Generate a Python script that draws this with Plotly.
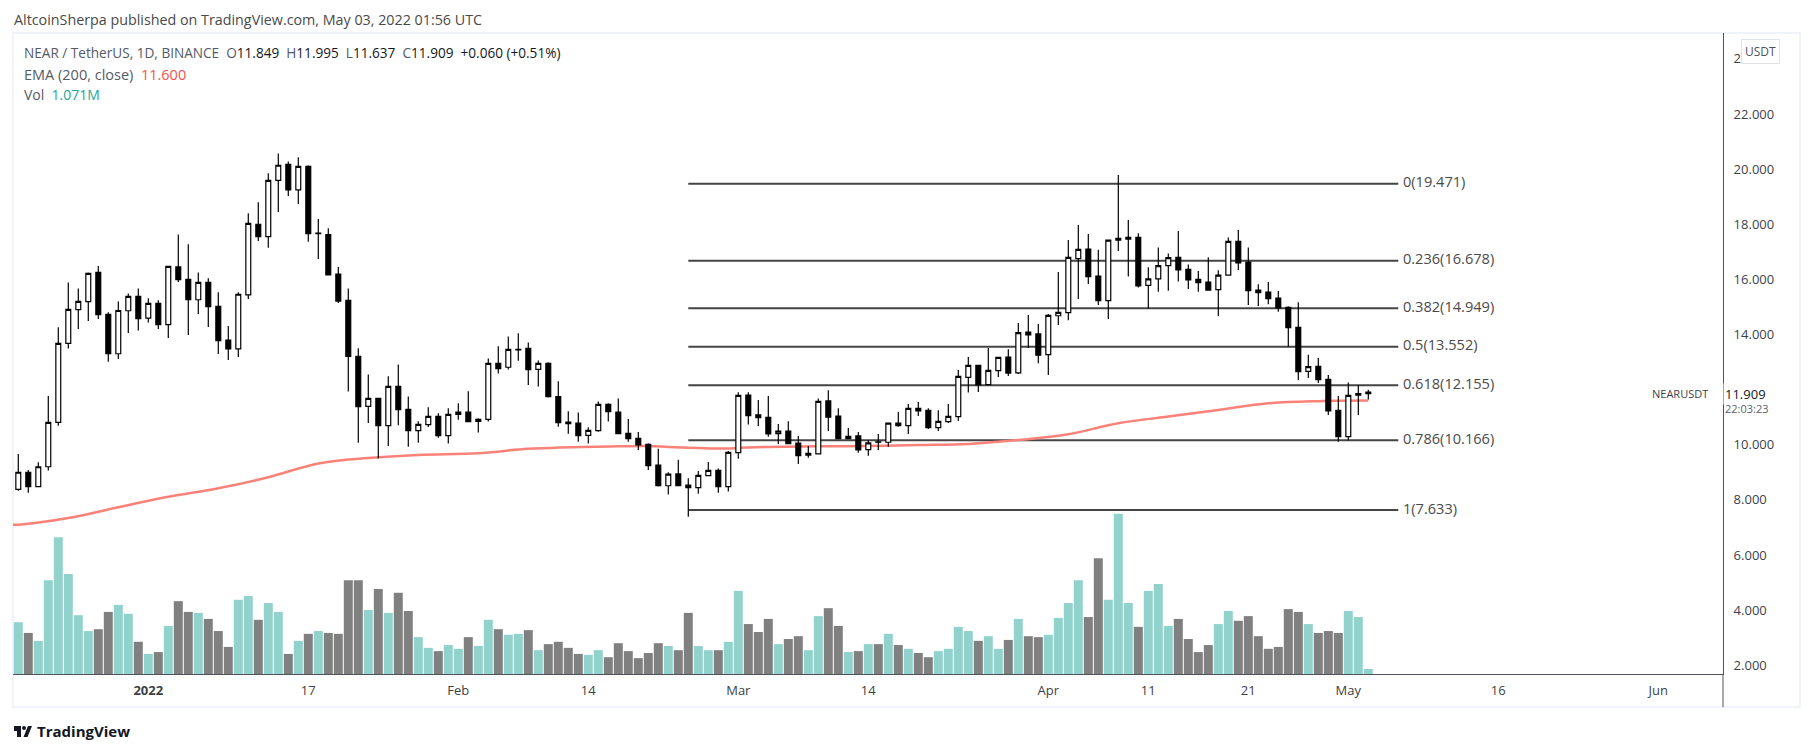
import pandas as pd
import plotly.graph_objects as go

first_day = "2021-12-19"

opens = [8.38, 9.00, 8.48, 9.20, 10.81, 13.68, 14.90, 15.19, 16.25, 14.73, 13.30, 14.86, 15.38, 14.59, 15.13, 14.36,
         16.45, 16.00, 15.26, 15.89, 15.02, 13.80, 13.48, 15.44, 18.00, 17.55, 19.59, 20.17, 19.25, 20.10, 17.66, 17.62,
         16.19, 15.24, 13.21, 11.39, 11.68, 10.69, 12.12, 11.28, 10.51, 10.73, 11.03, 10.33, 11.10, 11.18, 10.85, 10.92,
         12.95, 12.81, 13.44, 13.50, 12.73, 12.95, 11.75, 10.82, 10.78, 10.34, 10.51, 11.46, 11.18, 10.41, 10.23, 10.01,
         9.26, 8.51, 8.94, 8.53, 8.44, 8.88, 9.07, 8.48, 9.71, 11.80, 11.08, 10.99, 10.40, 10.49, 10.06, 9.62,
         9.67, 11.59, 11.04, 10.22, 10.32, 9.82, 10.10, 10.09, 10.78, 10.69, 11.32, 11.25, 10.62, 10.84, 11.02, 12.44,
         12.88, 12.18, 12.69, 13.18, 12.61, 14.09, 14.02, 13.27, 14.68, 14.79, 16.75, 17.10, 16.12, 15.23, 17.42, 17.46,
         17.52, 15.78, 16.02, 16.50, 16.80, 16.36, 16.00, 15.90, 15.63, 16.15, 17.38, 16.63, 15.61, 15.54, 15.32, 14.98,
         14.26, 12.66, 12.84, 12.37, 11.25, 10.29, 11.80, 11.849]
highs = [9.66, 9.08, 9.36, 11.77, 14.26, 15.89, 15.67, 16.25, 16.48, 14.81, 15.20, 15.49, 15.67, 15.31, 15.24, 16.47,
         17.63, 17.27, 16.25, 16.04, 15.53, 14.31, 15.53, 18.40, 18.80, 19.85, 20.57, 20.28, 20.43, 20.14, 18.19, 17.85,
         16.45, 15.67, 13.50, 12.55, 11.68, 12.48, 12.91, 11.75, 10.85, 11.36, 11.14, 11.32, 11.50, 11.94, 10.96, 13.13,
         13.57, 13.93, 14.04, 13.71, 13.06, 12.99, 12.30, 11.21, 11.17, 10.63, 11.57, 11.50, 11.68, 10.93, 10.46, 10.05,
         9.85, 9.00, 9.45, 8.78, 9.05, 9.37, 9.14, 9.77, 11.90, 11.90, 11.62, 11.77, 10.75, 10.85, 10.32, 9.95,
         11.68, 11.98, 11.32, 10.61, 10.46, 10.17, 10.39, 10.81, 11.19, 11.48, 11.55, 11.32, 11.25, 11.48, 12.71, 13.18,
         12.88, 13.51, 13.19, 13.46, 14.42, 14.71, 14.38, 14.74, 16.27, 17.43, 17.97, 17.65, 17.07, 17.45, 19.79, 18.15,
         17.67, 16.44, 17.16, 16.94, 17.75, 16.54, 16.30, 16.80, 16.33, 17.52, 17.79, 17.16, 15.82, 15.90, 15.58, 15.02,
         15.17, 13.26, 13.15, 12.53, 11.77, 12.26, 12.17, 11.995]
lows = [8.33, 8.26, 8.47, 9.06, 10.69, 13.49, 14.20, 14.49, 14.56, 13.01, 13.11, 14.05, 14.14, 14.43, 14.20, 13.87,
        15.90, 13.98, 14.74, 14.27, 13.29, 13.07, 13.18, 15.29, 17.39, 17.15, 18.44, 19.02, 18.73, 17.36, 16.74, 16.15,
        15.14, 11.93, 10.07, 10.79, 9.50, 9.95, 10.71, 9.93, 10.07, 10.64, 10.25, 10.04, 10.91, 10.84, 10.44, 10.84,
        12.58, 12.73, 13.05, 12.17, 12.11, 11.71, 10.65, 10.40, 10.11, 10.04, 10.47, 10.84, 10.40, 10.11, 9.81, 9.08,
        8.48, 8.19, 8.51, 7.39, 8.22, 8.88, 8.26, 8.30, 9.49, 10.73, 10.68, 10.29, 10.03, 10.03, 9.30, 9.53,
        9.67, 10.50, 10.22, 10.22, 9.71, 9.60, 9.81, 9.93, 10.65, 10.39, 11.04, 10.57, 10.50, 10.79, 10.86, 11.89,
        11.91, 12.17, 12.46, 12.49, 12.57, 13.51, 12.96, 12.53, 14.34, 14.52, 15.29, 15.83, 15.07, 14.56, 17.03, 16.10,
        15.70, 14.94, 15.55, 15.59, 15.92, 15.65, 15.55, 15.59, 14.67, 16.15, 16.34, 15.07, 15.03, 15.10, 14.82, 13.55,
        12.35, 12.42, 12.24, 11.08, 10.11, 10.15, 11.08, 11.637]
closes = [9.00, 8.48, 9.20, 10.81, 13.68, 14.91, 15.20, 16.22, 14.72, 13.30, 14.87, 15.38, 14.57, 15.13, 14.36, 16.47,
          15.99, 15.26, 15.89, 15.01, 13.78, 13.48, 15.46, 18.03, 17.55, 19.59, 20.14, 19.25, 20.10, 17.66, 17.68, 16.16,
          15.21, 13.20, 11.38, 11.68, 10.69, 12.12, 11.27, 10.51, 10.74, 11.03, 10.33, 11.10, 11.18, 10.84, 10.92, 12.95,
          12.76, 13.46, 13.46, 12.72, 12.95, 11.74, 10.80, 10.76, 10.33, 10.52, 11.46, 11.20, 10.40, 10.22, 9.99, 9.24,
          8.51, 8.93, 8.51, 8.44, 8.89, 9.07, 8.48, 9.72, 11.79, 11.05, 10.98, 10.39, 10.49, 10.04, 9.60, 9.69,
          11.57, 11.00, 10.22, 10.30, 9.81, 10.07, 10.09, 10.78, 10.69, 11.32, 11.23, 10.62, 10.85, 11.03, 12.48, 12.88,
          12.17, 12.70, 13.17, 12.60, 14.07, 13.98, 13.25, 14.69, 14.80, 16.80, 17.09, 16.10, 15.23, 17.42, 17.49, 17.52,
          15.76, 16.02, 16.50, 16.79, 16.34, 15.98, 15.88, 15.61, 16.15, 17.38, 16.60, 15.59, 15.52, 15.30, 14.96, 14.25,
          12.65, 12.83, 12.36, 11.23, 10.29, 11.79, 11.85, 11.909]
# volume in millions
volumes = [11.1, 8.8, 7.1, 20.1, 29.3, 21.4, 12.6, 9.2, 9.6, 13.3, 14.8, 12.9, 6.9, 4.3, 4.7, 10.3,
           15.6, 13.3, 13.1, 11.8, 9.2, 5.8, 15.9, 16.7, 11.6, 15.2, 13.3, 4.3, 7.1, 8.6, 9.2, 8.8,
           8.6, 20.1, 20.1, 13.7, 18.2, 13.1, 17.4, 13.5, 7.9, 5.6, 4.9, 6.2, 5.4, 7.9, 6.0, 11.6,
           9.6, 8.4, 8.6, 9.4, 5.1, 6.4, 6.9, 5.6, 4.3, 4.1, 5.1, 3.6, 6.6, 4.9, 3.4, 4.5,
           6.6, 6.0, 5.1, 13.1, 6.0, 5.1, 5.1, 6.9, 17.8, 10.7, 9.0, 11.8, 6.4, 7.5, 8.1, 5.1,
           12.4, 14.1, 10.3, 4.7, 4.9, 6.4, 6.4, 8.6, 6.2, 5.4, 4.5, 3.6, 4.9, 5.4, 10.1, 9.2,
           7.1, 8.1, 5.4, 7.3, 11.8, 8.1, 7.9, 8.4, 12.0, 15.2, 20.1, 12.2, 24.8, 15.9, 34.3, 15.2,
           10.1, 17.8, 19.3, 10.3, 11.8, 7.5, 4.7, 6.2, 10.7, 13.5, 11.4, 12.4, 8.1, 5.4, 5.8, 13.9,
           13.3, 10.7, 8.8, 9.2, 8.8, 13.5, 12.2, 1.071]

# EMA every few candles
ema_days = [-1, 0, 5, 10, 15, 20, 25, 30, 35, 40, 46, 51, 60, 63, 65, 68, 71, 72, 75, 80, 85, 90, 95, 100, 105, 110, 115, 120, 125, 130, 135]
ema_vals = [7.10, 7.10, 7.34, 7.73, 8.11, 8.42, 8.82, 9.32, 9.52, 9.63, 9.69, 9.85, 9.94, 9.95, 9.92, 9.88, 9.86, 9.89, 9.92, 9.94, 9.95, 9.99, 10.03, 10.17, 10.38, 10.78, 11.02, 11.26, 11.50, 11.58, 11.60]

fib_values = [19.471, 16.678, 14.949, 13.552, 12.155, 10.166, 7.633]
fib_labels = ["0(19.471)", "0.236(16.678)", "0.382(14.949)", "0.5(13.552)", "0.618(12.155)", "0.786(10.166)", "1(7.633)"]
fib_start = 67
fib_end = 138
fib_label_day = 138.46

price_ticks = [2, 4, 6, 8, 10, 14, 16, 18, 20, 22, 24]
date_ticks = ["2022-01-01", "2022-01-17", "2022-02-01", "2022-02-14", "2022-03-01", "2022-03-14", "2022-04-01",
              "2022-04-11", "2022-04-21", "2022-05-01", "2022-05-16", "2022-06-01"]
date_labels = ["<b>2022</b>", "17", "Feb", "14", "Mar", "14", "Apr", "11", "21", "May", "16", "Jun"]

FONT = "Open Sans"
GREY = "#555a66"
AXIS = "#50535e"

base = pd.Timestamp(first_day)
dates = pd.date_range(first_day, periods=len(closes))
ema_dates = [base + pd.Timedelta(days=d) for d in ema_days]
vol_colors = ["#92d2cc" if c > o else "#808080" for o, c in zip(opens, closes)]

# plot area in page pixels
LEFT, RIGHT, TOP, BOTTOM = 13, 1723, 33, 674
def px(x):
    return (x - LEFT) / (RIGHT - LEFT)
def py(y):
    return (BOTTOM - y) / (BOTTOM - TOP)

fig = go.Figure()

for level in fib_values:
    fig.add_trace(go.Scatter(x=[base + pd.Timedelta(days=fib_start), base + pd.Timedelta(days=fib_end)], y=[level, level],
                             mode="lines", line=dict(color="#444444", width=2), yaxis="y", showlegend=False))
fig.add_trace(go.Scatter(x=[base + pd.Timedelta(days=fib_label_day)] * len(fib_values), y=fib_values, text=fib_labels,
                         mode="text", textposition="middle right", textfont=dict(family=FONT, size=14.6, color="#4a4a4a"),
                         yaxis="y", showlegend=False))
fig.add_trace(go.Scatter(x=ema_dates, y=ema_vals, mode="lines", line=dict(color="#fa8279", width=2.5, shape="spline"),
                         yaxis="y", showlegend=False))
fig.add_trace(go.Bar(x=dates, y=volumes, marker=dict(color=vol_colors, line=dict(width=0)), yaxis="y2", showlegend=False))
fig.add_trace(go.Candlestick(x=dates, open=opens, high=highs, low=lows, close=closes, yaxis="y3", showlegend=False,
                             increasing=dict(fillcolor="#ffffff", line=dict(color="#000000", width=1.2)),
                             decreasing=dict(fillcolor="#000000", line=dict(color="#000000", width=1.2))))

price_range = [1.68, 24.939]
fig.update_layout(
    width=1813,
    height=753,
    margin=dict(l=LEFT, r=1813 - RIGHT, t=TOP, b=753 - BOTTOM),
    paper_bgcolor="#ffffff",
    plot_bgcolor="#ffffff",
    bargap=0.1,
    showlegend=False,
    font=dict(family=FONT, size=13, color="#131722"),
    xaxis=dict(type="date", range=[base - pd.Timedelta(hours=12.7), base + pd.Timedelta(hours=170.47 * 24)],
               tickvals=date_ticks, ticktext=date_labels, showgrid=False, zeroline=False, rangeslider=dict(visible=False),
               showline=True, linecolor=AXIS, linewidth=1, ticks="outside", ticklen=4, tickcolor="#ffffff",
               tickangle=0, tickfont=dict(family=FONT, size=13, color="#3c3f48")),
    yaxis=dict(range=price_range, side="right", tickvals=price_ticks, tickformat=".3f", showgrid=False, zeroline=False,
               showline=True, linecolor=AXIS, linewidth=1, ticks="outside", ticklen=7, tickcolor="#ffffff",
               tickfont=dict(family=FONT, size=13, color="#3c3f48")),
    yaxis2=dict(range=[0, 137.3], overlaying="y", visible=False),
    yaxis3=dict(range=price_range, overlaying="y", visible=False),
    shapes=[
        # outer frame and the axis line running on past the time scale
        dict(type="rect", xref="paper", yref="paper", x0=px(13), x1=px(1800), y0=py(707), y1=py(33),
             line=dict(color="#f0f3fa", width=2), layer="below"),
        dict(type="line", xref="paper", yref="paper", x0=px(RIGHT), x1=px(RIGHT), y0=py(707), y1=py(BOTTOM),
             line=dict(color=AXIS, width=1)),
        # TradingView mark
        dict(type="rect", xref="paper", yref="paper", x0=px(14), x1=px(21), y0=py(731), y1=py(726), fillcolor="#131722", line=dict(width=0)),
        dict(type="rect", xref="paper", yref="paper", x0=px(17), x1=px(21), y0=py(737), y1=py(726), fillcolor="#131722", line=dict(width=0)),
        dict(type="circle", xref="paper", yref="paper", x0=px(22), x1=px(26), y0=py(730), y1=py(726), fillcolor="#131722", line=dict(width=0)),
        dict(type="path", xref="paper", yref="paper", path=f"M {px(28)} {py(726)} L {px(32)} {py(726)} L {px(27.5)} {py(737)} L {px(23.5)} {py(737)} Z",
             fillcolor="#131722", line=dict(width=0)),
    ],
)

def note(x, y, text, size=13, color=GREY, **kw):
    fig.add_annotation(xref="paper", yref="paper", x=px(x), y=py(y), text=text, showarrow=False, xanchor="left",
                       yanchor="middle", align="left", font=dict(family=FONT, size=size, color=color), **kw)

note(12, 19, "AltcoinSherpa published on TradingView.com, May 03, 2022 01:56 UTC", size=14.3, color="#4a4a4a")
note(22, 53, "NEAR / TetherUS, 1D, BINANCE  O<span style='color:#131722'>11.849</span>  H<span style='color:#131722'>11.995</span>  "
             "L<span style='color:#131722'>11.637</span>  C<span style='color:#131722'>11.909</span>  "
             "<span style='color:#131722'>+0.060 (+0.51%)</span>", size=13.6)
note(22, 74, "EMA (200, close)  <span style='color:#f6524d'>11.600</span>", size=14.5)
note(22, 95, "Vol  <span style='color:#26a69a'>1.071M</span>", size=14)
note(1650, 394, "NEARUSDT", size=11, color="#3c3f48")
note(1723, 394, "11.909", size=13, color="#131722", bgcolor="#ffffff")
note(1723, 408, "22:03:23", size=11, color="#5d606b")
note(1741, 51, "USDT", size=12, color="#50535e", bgcolor="#ffffff", bordercolor="#e0e3eb", borderwidth=1, borderpad=3)
note(35, 731, "<b>TradingView</b>", size=15, color="#131722")

fig.write_html("out.html", config=dict(displayModeBar=False), post_script="document.body.style.margin='0'")
